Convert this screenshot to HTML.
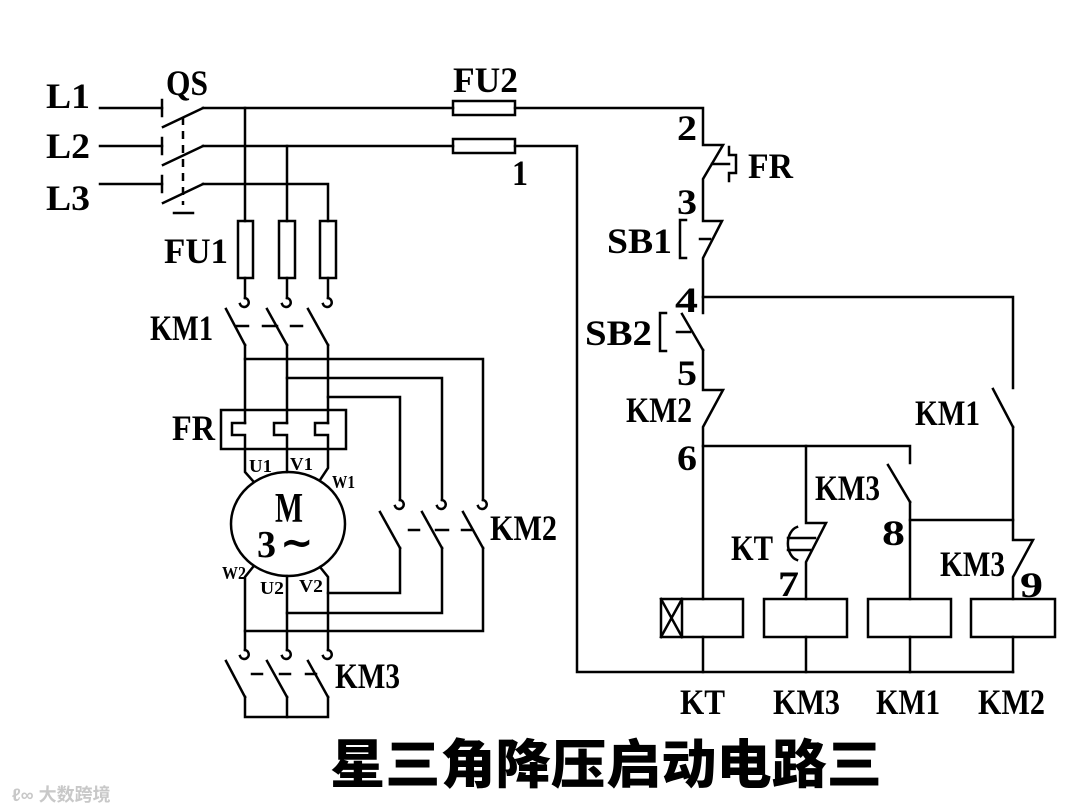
<!DOCTYPE html>
<html><head><meta charset="utf-8"><style>
html,body{margin:0;padding:0;background:#fff;}
svg{display:block;}
text{font-family:"Liberation Serif",serif;font-weight:bold;fill:#000;}
</style></head><body>
<svg width="1080" height="810" viewBox="0 0 1080 810" xmlns="http://www.w3.org/2000/svg">
<rect width="1080" height="810" fill="#fff"/>
<g fill="none" stroke="#000" stroke-width="2.5" stroke-linecap="square">
<line x1="100" y1="108" x2="162" y2="108"/><line x1="162" y1="100" x2="162" y2="116"/>
<line x1="100" y1="146" x2="162" y2="146"/><line x1="162" y1="138" x2="162" y2="154"/>
<line x1="100" y1="184" x2="162" y2="184"/><line x1="162" y1="176" x2="162" y2="192"/>
<line x1="163" y1="127" x2="203" y2="108"/>
<line x1="163" y1="165" x2="203" y2="146"/>
<line x1="163" y1="203" x2="203" y2="184"/>
<line x1="183" y1="117" x2="183" y2="205" stroke-dasharray="8,6" stroke-linecap="butt"/>
<line x1="174" y1="213" x2="193" y2="213"/>
<polyline points="203,108 453,108"/><rect x="453" y="101" width="62" height="14"/><polyline points="515,108 703,108 703,145 723,145 703,179 703,221 722,221 703,258 703,313"/>
<polyline points="203,146 453,146"/><rect x="453" y="139" width="62" height="14"/><polyline points="515,146 577,146 577,672 1013,672"/>
<polyline points="203,184 328,184 328,221"/>
<line x1="245" y1="108" x2="245" y2="221"/>
<line x1="287" y1="146" x2="287" y2="221"/>
<rect x="238" y="221" width="15" height="57"/><rect x="279" y="221" width="16" height="57"/><rect x="320" y="221" width="16" height="57"/>
<line x1="245" y1="278" x2="245" y2="298"/><line x1="287" y1="278" x2="287" y2="298"/><line x1="328" y1="278" x2="328" y2="298"/>
<path d="M245 298 A4.5 4.5 0 1 1 240 304"/><path d="M287 298 A4.5 4.5 0 1 1 282 304"/><path d="M328 298 A4.5 4.5 0 1 1 323 304"/>
<line x1="226" y1="309" x2="245" y2="345"/><line x1="267" y1="309" x2="287" y2="345"/><line x1="308" y1="309" x2="328" y2="345"/>
<line x1="237" y1="326" x2="248" y2="326"/><line x1="263" y1="326" x2="277" y2="326"/><line x1="291" y1="326" x2="302" y2="326"/>
<line x1="245" y1="345" x2="245" y2="423"/><line x1="287" y1="345" x2="287" y2="423"/><line x1="328" y1="345" x2="328" y2="423"/>
<polyline points="245,359 483,359 483,500"/>
<polyline points="287,378 442,378 442,500"/>
<polyline points="328,397 400,397 400,500"/>
<path d="M400 500 A4.5 4.5 0 1 1 395 506"/><path d="M442 500 A4.5 4.5 0 1 1 437 506"/><path d="M483 500 A4.5 4.5 0 1 1 478 506"/>
<line x1="380" y1="512" x2="400" y2="548"/><line x1="422" y1="512" x2="442" y2="548"/><line x1="463" y1="512" x2="483" y2="548"/>
<line x1="409" y1="530" x2="419" y2="530"/><line x1="436" y1="530" x2="448" y2="530"/><line x1="462" y1="530" x2="471" y2="530"/>
<polyline points="400,548 400,593 328,593"/>
<polyline points="442,548 442,613 287,613"/>
<polyline points="483,548 483,631 245,631"/>
<rect x="221" y="410" width="125" height="39"/>
<polyline points="245,423 232,423 232,435 245,435 245,472 253,481"/>
<polyline points="287,423 274,423 274,435 287,435 287,472"/>
<polyline points="328,423 315,423 315,435 328,435 328,468 320,480"/>
<ellipse cx="288" cy="524" rx="57" ry="52"/>
<polyline points="253,567 245,577 245,650"/>
<line x1="287" y1="576" x2="287" y2="650"/>
<polyline points="320,567 328,577 328,650"/>
<path d="M245 650 A4.5 4.5 0 1 1 240 656"/><path d="M287 650 A4.5 4.5 0 1 1 282 656"/><path d="M328 650 A4.5 4.5 0 1 1 323 656"/>
<line x1="226" y1="661" x2="245" y2="697"/><line x1="267" y1="661" x2="287" y2="697"/><line x1="308" y1="661" x2="328" y2="697"/>
<line x1="252" y1="674" x2="262" y2="674"/><line x1="280" y1="674" x2="290" y2="674"/><line x1="306" y1="674" x2="316" y2="674"/>
<polyline points="245,697 245,717 328,717 328,697"/><line x1="287" y1="697" x2="287" y2="717"/>
<polyline points="729,147 729,155 736,155 736,173 729,173 729,181"/>
<line x1="712" y1="164" x2="729" y2="164"/>
<polyline points="686,220 680,220 680,258 686,258"/>
<line x1="700" y1="239" x2="710" y2="239"/>
<polyline points="703,297 1013,297 1013,388"/>
<polyline points="666,313 660,313 660,351 666,351"/>
<line x1="677" y1="332" x2="690" y2="332"/>
<line x1="682" y1="314" x2="703" y2="350"/>
<polyline points="703,350 703,390 723,390 703,427 703,599"/>
<polyline points="703,446 910,446 910,463"/>
<line x1="888" y1="465" x2="910" y2="502"/>
<line x1="910" y1="502" x2="910" y2="599"/>
<line x1="910" y1="520" x2="1013" y2="520"/>
<line x1="993" y1="389" x2="1013" y2="427"/>
<polyline points="1013,427 1013,540 1033,540 1013,577 1013,599"/>
<polyline points="806,446 806,523 826,523 806,562 806,599"/>
<path d="M797 527 A12 17 0 0 0 797 560"/>
<line x1="788" y1="538" x2="815" y2="538"/><line x1="788" y1="550" x2="810" y2="550"/>
<rect x="661" y="599" width="82" height="38"/><line x1="682" y1="599" x2="682" y2="637"/>
<line x1="661" y1="599" x2="682" y2="637"/><line x1="682" y1="599" x2="661" y2="637"/>
<rect x="764" y="599" width="83" height="38"/>
<rect x="868" y="599" width="83" height="38"/>
<rect x="971" y="599" width="84" height="38"/>
<line x1="703" y1="637" x2="703" y2="672"/><line x1="806" y1="637" x2="806" y2="672"/><line x1="910" y1="637" x2="910" y2="672"/><line x1="1013" y1="637" x2="1013" y2="672"/>
</g>
<g font-size="36">
<text x="46" y="108" textLength="44" lengthAdjust="spacingAndGlyphs">L1</text>
<text x="46" y="158" textLength="44" lengthAdjust="spacingAndGlyphs">L2</text>
<text x="46" y="210" textLength="44" lengthAdjust="spacingAndGlyphs">L3</text>
<text x="166" y="95" textLength="42" lengthAdjust="spacingAndGlyphs">QS</text>
<text x="453" y="92" textLength="65" lengthAdjust="spacingAndGlyphs">FU2</text>
<text x="512" y="185" textLength="16" lengthAdjust="spacingAndGlyphs">1</text>
<text x="164" y="263" textLength="64" lengthAdjust="spacingAndGlyphs">FU1</text>
<text x="150" y="340" textLength="63" lengthAdjust="spacingAndGlyphs">KM1</text>
<text x="172" y="440" textLength="43" lengthAdjust="spacingAndGlyphs">FR</text>
<text x="490" y="540" textLength="67" lengthAdjust="spacingAndGlyphs">KM2</text>
<text x="335" y="688" textLength="65" lengthAdjust="spacingAndGlyphs">KM3</text>
<text x="677" y="140" textLength="20" lengthAdjust="spacingAndGlyphs">2</text>
<text x="748" y="178" textLength="45" lengthAdjust="spacingAndGlyphs">FR</text>
<text x="677" y="214" textLength="20" lengthAdjust="spacingAndGlyphs">3</text>
<text x="607" y="253" textLength="65" lengthAdjust="spacingAndGlyphs">SB1</text>
<text x="675" y="312" textLength="23" lengthAdjust="spacingAndGlyphs">4</text>
<text x="585" y="345" textLength="67" lengthAdjust="spacingAndGlyphs">SB2</text>
<text x="677" y="385" textLength="20" lengthAdjust="spacingAndGlyphs">5</text>
<text x="626" y="422" textLength="66" lengthAdjust="spacingAndGlyphs">KM2</text>
<text x="677" y="470" textLength="20" lengthAdjust="spacingAndGlyphs">6</text>
<text x="915" y="425" textLength="65" lengthAdjust="spacingAndGlyphs">KM1</text>
<text x="815" y="500" textLength="65" lengthAdjust="spacingAndGlyphs">KM3</text>
<text x="882" y="545" textLength="23" lengthAdjust="spacingAndGlyphs">8</text>
<text x="731" y="560" textLength="42" lengthAdjust="spacingAndGlyphs">KT</text>
<text x="778" y="596" textLength="21" lengthAdjust="spacingAndGlyphs">7</text>
<text x="940" y="576" textLength="65" lengthAdjust="spacingAndGlyphs">KM3</text>
<text x="1020" y="597" textLength="23" lengthAdjust="spacingAndGlyphs">9</text>
<text x="680" y="714" textLength="45" lengthAdjust="spacingAndGlyphs">KT</text>
<text x="773" y="714" textLength="67" lengthAdjust="spacingAndGlyphs">KM3</text>
<text x="876" y="714" textLength="64" lengthAdjust="spacingAndGlyphs">KM1</text>
<text x="978" y="714" textLength="67" lengthAdjust="spacingAndGlyphs">KM2</text>
</g>
<g font-size="18" font-weight="normal">
<text x="249" y="472" textLength="23" lengthAdjust="spacingAndGlyphs">U1</text>
<text x="290" y="470" textLength="23" lengthAdjust="spacingAndGlyphs">V1</text>
<text x="332" y="488" textLength="23" lengthAdjust="spacingAndGlyphs">W1</text>
<text x="222" y="579" textLength="24" lengthAdjust="spacingAndGlyphs">W2</text>
<text x="260" y="594" textLength="24" lengthAdjust="spacingAndGlyphs">U2</text>
<text x="299" y="592" textLength="24" lengthAdjust="spacingAndGlyphs">V2</text>
</g>
<text x="275" y="522" font-size="42" textLength="28" lengthAdjust="spacingAndGlyphs">M</text>
<text x="257" y="557" font-size="38" font-weight="normal">3</text>
<text x="280" y="556" font-size="40" font-weight="normal" style="font-family:'DejaVu Sans',sans-serif">~</text>
<text x="330" y="783" font-size="53" textLength="552" lengthAdjust="spacingAndGlyphs" style="font-family:'Liberation Sans','Noto Sans CJK SC',sans-serif;font-weight:900">星三角降压启动电路三</text>
<text x="12" y="801" font-size="18" style="font-family:'Liberation Sans','Noto Sans CJK SC',sans-serif;font-weight:bold;fill:#c8c8c8">ℓ∞ 大数跨境</text>
</svg>
</body></html>
